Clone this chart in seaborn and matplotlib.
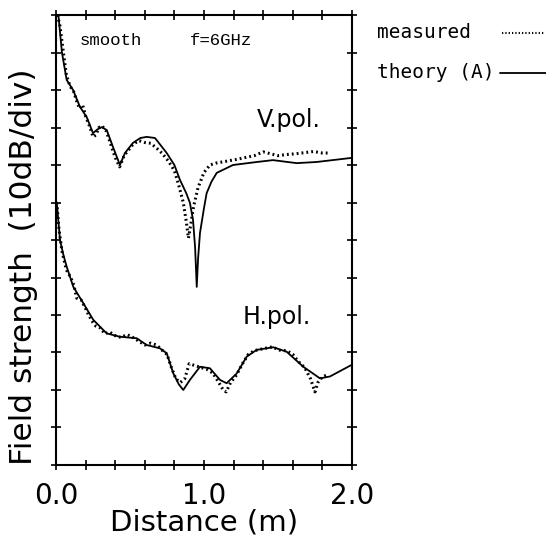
import numpy as np
import pandas as pd
import matplotlib
matplotlib.use("Agg")
import matplotlib.pyplot as plt
import seaborn as sns
from matplotlib.lines import Line2D

# ---- data (y in dB, 10 dB per division, 0..120) ----
v_theory_x = [0.0, 0.016, 0.04, 0.072, 0.115, 0.162, 0.207, 0.25, 0.28, 0.309, 0.343, 0.385,
              0.432, 0.466, 0.52, 0.57, 0.613, 0.669, 0.748, 0.80, 0.838, 0.88, 0.905, 0.926,
              0.94, 0.951, 0.96, 0.973, 1.0, 1.018, 1.05, 1.086, 1.196, 1.356, 1.466, 1.626,
              1.76, 1.998]
v_theory_y = [121, 120, 110, 102.7, 100, 95.5, 92.8, 88.5, 89.5, 90.1, 89.3, 84.8,
              80, 83.2, 85.9, 87.2, 87.5, 87.2, 83.2, 80, 76, 72.5, 69.9, 65.3,
              58, 47.5, 55, 61.9, 68.5, 72.5, 75.5, 77.9, 80, 80.8, 81.3, 80.5,
              80.8, 81.9]

v_meas_x = [0.01, 0.027, 0.05, 0.07, 0.095, 0.12, 0.14, 0.16, 0.18, 0.2, 0.23, 0.25, 0.27,
            0.29, 0.31, 0.34, 0.37, 0.4, 0.43, 0.46, 0.49, 0.52, 0.56, 0.6, 0.64, 0.68,
            0.72, 0.76, 0.8, 0.83, 0.86, 0.88, 0.895, 0.91, 0.93, 0.96, 1.0, 1.04, 1.08,
            1.15, 1.22, 1.28, 1.34, 1.4, 1.45, 1.5, 1.56, 1.62, 1.68, 1.74, 1.8, 1.85]
v_meas_y = [120, 117, 110, 104, 101, 99.5, 97, 95, 96, 93, 90, 87.5, 88,
            90, 90.5, 89, 85.5, 82, 79.5, 82.5, 84, 85.5, 86.5, 86, 85.8, 84.5,
            83, 81, 78.5, 74.5, 70, 65, 60.5, 64, 69, 74, 78, 80, 80.5,
            81, 81.5, 82, 82.5, 83.5, 83, 82.5, 82.8, 83, 83.3, 83.6, 83.2, 83.2]

h_theory_x = [0.005, 0.027, 0.05, 0.072, 0.117, 0.185, 0.252, 0.342, 0.432, 0.545, 0.613,
              0.703, 0.748, 0.793, 0.83, 0.86, 0.905, 0.973, 1.04, 1.108, 1.153, 1.221,
              1.289, 1.356, 1.468, 1.559, 1.671, 1.784, 1.851, 1.998]
h_theory_y = [70, 60, 56, 52.9, 47.5, 43.1, 38.7, 35.1, 34.2, 33.8, 32,
              31.1, 29.8, 24.4, 21.5, 20, 22.7, 26.2, 25.8, 22.7, 21.8, 24.4,
              28.9, 30.7, 31.4, 30.2, 26.2, 23.1, 23.6, 26.7]

h_meas_x = [0.005, 0.02, 0.04, 0.07, 0.1, 0.12, 0.14, 0.17, 0.19, 0.22, 0.25, 0.27, 0.3,
            0.33, 0.36, 0.4, 0.44, 0.48, 0.52, 0.56, 0.6, 0.64, 0.68, 0.72, 0.75, 0.78,
            0.81, 0.84, 0.87, 0.9, 0.94, 0.98, 1.02, 1.06, 1.1, 1.13, 1.15, 1.18, 1.22,
            1.26, 1.3, 1.34, 1.4, 1.46, 1.52, 1.56, 1.6, 1.64, 1.68, 1.72, 1.75, 1.77,
            1.8, 1.83]
h_meas_y = [70, 63, 57, 52, 50, 48, 44.5, 44, 42.5, 40, 38, 37, 36.5,
            35, 35.5, 34.5, 34, 34.8, 34, 33, 32, 32.5, 32, 30.5, 29.5, 26,
            23, 22, 23, 27, 26.5, 26, 25.5, 24.5, 22, 20, 19.5, 22, 24,
            27, 29.5, 30.5, 31, 31.5, 30.5, 30.5, 29.5, 27.5, 26, 23, 19.5, 22,
            23.5, 24]

theory = pd.concat([
    pd.DataFrame({"dist": v_theory_x, "db": v_theory_y, "pol": "V"}),
    pd.DataFrame({"dist": h_theory_x, "db": h_theory_y, "pol": "H"}),
])
measured = pd.concat([
    pd.DataFrame({"dist": v_meas_x, "db": v_meas_y, "pol": "V"}),
    pd.DataFrame({"dist": h_meas_x, "db": h_meas_y, "pol": "H"}),
])

sns.set_style("ticks")
plt.rcParams["font.family"] = ["DejaVu Sans"]
plt.rcParams["text.color"] = "black"
plt.rcParams["axes.labelcolor"] = "black"
plt.rcParams["xtick.color"] = "black"
plt.rcParams["ytick.color"] = "black"

fig = plt.figure(figsize=(5.46, 5.40), dpi=100)
ax = fig.add_axes([0.1026, 0.1389, 0.542, 0.8333])

for pol in ["V", "H"]:
    sns.lineplot(data=theory[theory["pol"] == pol], x="dist", y="db", ax=ax,
                 color="black", lw=1.3, sort=False, estimator=None)
    sns.lineplot(data=measured[measured["pol"] == pol], x="dist", y="db", ax=ax,
                 color="black", lw=2.2, ls=(0, (0.6, 1.0)), sort=False, estimator=None)

ax.set_xlim(0, 2.0)
ax.set_ylim(0, 120)
ax.set_xticks([0.0, 1.0, 2.0])
ax.set_xticklabels(["0.0", "1.0", "2.0"], fontsize=20)
ax.set_xticks(np.arange(0, 2.01, 0.2), minor=True)
ax.set_yticks(np.arange(0, 121, 10))
ax.set_yticklabels([])
ax.tick_params(which="both", direction="inout", length=7, width=1.2,
               top=True, right=True, pad=9, colors="black")
for s in ax.spines.values():
    s.set_linewidth(1.5)
    s.set_visible(True)
    s.set_color("black")

ax.set_xlabel("Distance (m)", fontsize=21, labelpad=-1)
ax.set_ylabel("Field strength  (10dB/div)", fontsize=22.5)
ax.yaxis.set_label_coords(-0.062, 0.44)

ax.text(0.162, 112, "smooth", family="Liberation Mono", fontsize=12.5, va="baseline")
ax.text(0.905, 112, "f=6GHz", family="Liberation Mono", fontsize=12.5, va="baseline")
ax.text(1.36, 92, "V.pol.", fontsize=17, va="center", fontweight="medium")
ax.text(1.264, 39.5, "H.pol.", fontsize=17, va="center", fontweight="medium")

# legend outside the axes, text before line
fig.text(377 / 546, 1 - 32 / 540, "measured", family="DejaVu Sans Mono",
         fontsize=14, va="center")
fig.text(377 / 546, 1 - 72 / 540, "theory (A)", family="DejaVu Sans Mono",
         fontsize=14, va="center")
fig.add_artist(Line2D([502 / 546, 545 / 546], [1 - 33 / 540, 1 - 33 / 540],
                      color="black", lw=1.5, ls=(0, (0.6, 1.0))))
fig.add_artist(Line2D([500 / 546, 546 / 546], [1 - 73 / 540, 1 - 73 / 540],
                      color="black", lw=1.3))

fig.savefig("out.png", dpi=100)
